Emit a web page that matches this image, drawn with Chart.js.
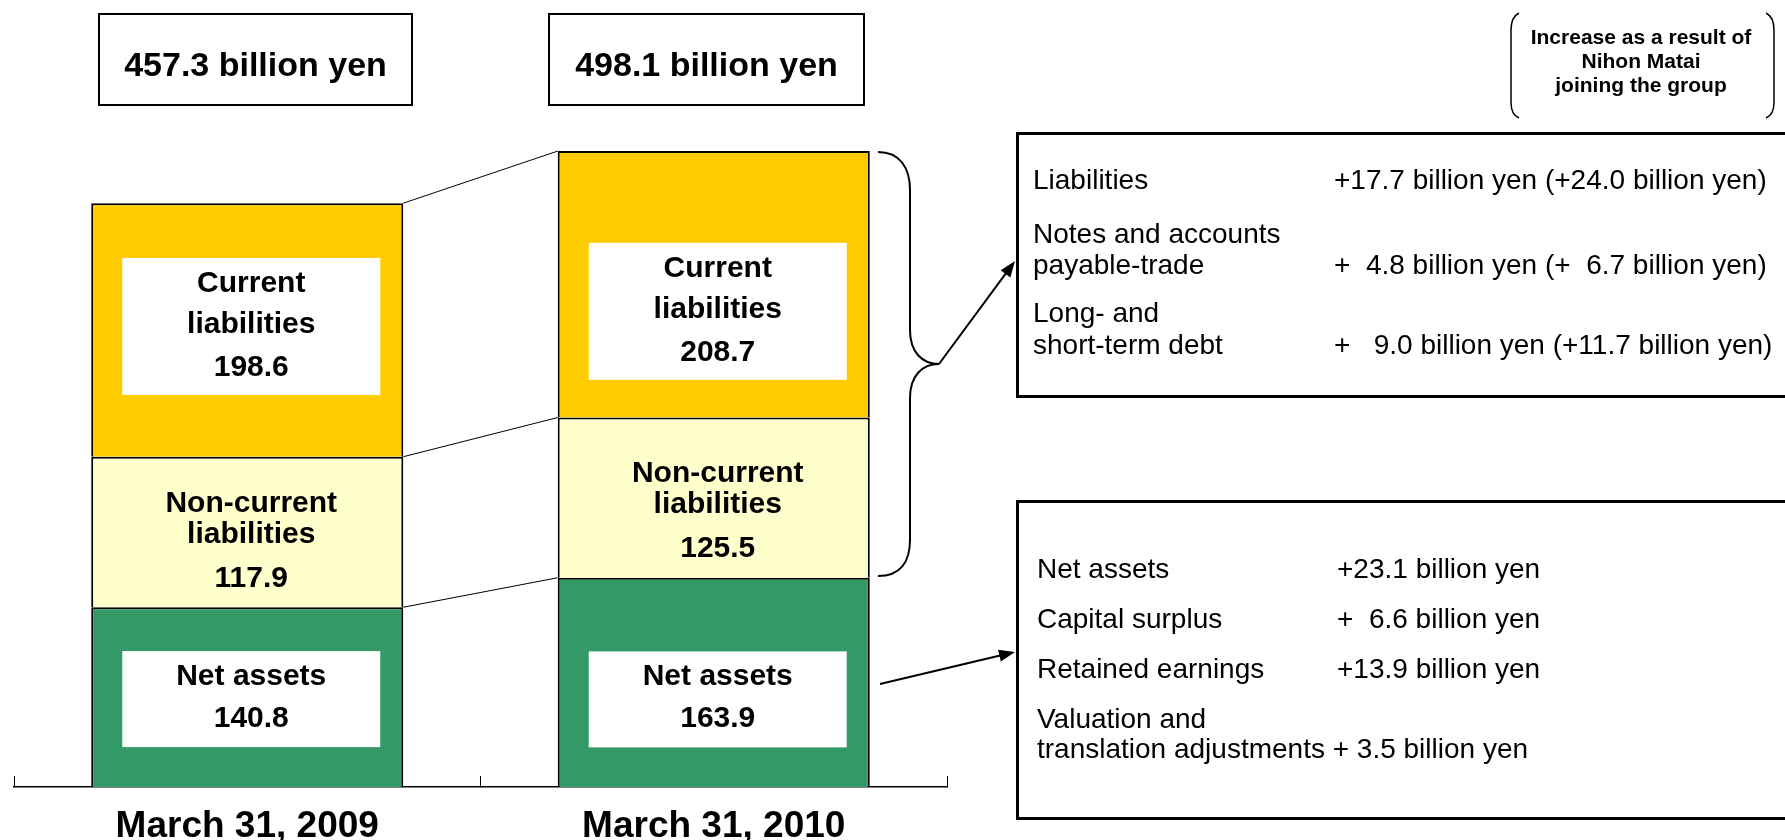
<!DOCTYPE html>
<html>
<head>
<meta charset="utf-8">
<script src="https://cdn.jsdelivr.net/npm/chart.js@4.4.1/dist/chart.umd.min.js"></script>
<style>
  html, body { margin: 0; padding: 0; background: #fff; }
</style>
</head>
<body>
<canvas id="chart" width="1785" height="840"></canvas>
<script>
// balance sheet, billion yen (stacked bottom -> top)
const dates = ['March 31, 2009', 'March 31, 2010'];
const netAssets = [140.8, 163.9];
const nonCurrentLiabilities = [117.9, 125.5];
const currentLiabilities = [198.6, 208.7];

const segmentNames = [['Net assets'], ['Non-current', 'liabilities'], ['Current', 'liabilities']];

const liabilityNotes = [
  ['Liabilities', '+17.7 billion yen (+24.0 billion yen)'],
  ['Notes and accounts', ''],
  ['payable-trade', '+  4.8 billion yen (+  6.7 billion yen)'],
  ['Long- and', ''],
  ['short-term debt', '+   9.0 billion yen (+11.7 billion yen)']
];
const netAssetNotes = [
  ['Net assets', '+23.1 billion yen'],
  ['Capital surplus', '+  6.6 billion yen'],
  ['Retained earnings', '+13.9 billion yen'],
  ['Valuation and', ''],
  ['translation adjustments + 3.5 billion yen', '']
];
const bracketNote = ['Increase as a result of', 'Nihon Matai', 'joining the group'];

const FONT = '"Liberation Sans", Arial, sans-serif';

// where the white label boxes and text rows sit inside each segment
const segmentStyle = [
  { box: 96, shift: [2, 17], rows: [-14, 28] },
  { box: 0, shift: [7.5, 11.5], rows: [-27.5, 3.5, 47.5] },
  { box: 137, shift: [-3.5, 27], rows: [-34, 7, 50] }
];

function arrow(ctx, x1, y1, x2, y2) {
  const a = Math.atan2(y2 - y1, x2 - x1);
  const c = Math.cos(a), s = Math.sin(a);
  ctx.beginPath();
  ctx.moveTo(x1, y1);
  ctx.lineTo(x2 - 12 * c, y2 - 12 * s);
  ctx.stroke();
  ctx.beginPath();
  ctx.moveTo(x2, y2);
  ctx.lineTo(x2 - 16 * c + 6 * s, y2 - 16 * s - 6 * c);
  ctx.lineTo(x2 - 16 * c - 6 * s, y2 - 16 * s + 6 * c);
  ctx.closePath();
  ctx.fill();
}

const annotations = {
  id: 'annotations',
  afterDatasetsDraw(chart) {
    const ctx = chart.ctx;
    ctx.save();
    ctx.strokeStyle = '#000';
    ctx.fillStyle = '#000';

    // connector lines between the two bars
    ctx.lineWidth = 1;
    chart.data.datasets.forEach((ds, i) => {
      const bars = chart.getDatasetMeta(i).data;
      const a = bars[0], b = bars[1];
      ctx.beginPath();
      ctx.moveTo(a.x + a.width / 2, a.y);
      ctx.lineTo(b.x - b.width / 2, b.y);
      ctx.stroke();
    });

    // segment labels
    ctx.textAlign = 'center';
    ctx.textBaseline = 'alphabetic';
    chart.data.datasets.forEach((ds, i) => {
      const st = segmentStyle[i];
      chart.getDatasetMeta(i).data.forEach((el, j) => {
        const mid = (el.y + el.base) / 2 + st.shift[j];
        const cx = el.x + 4;
        if (st.box) {
          ctx.fillStyle = '#fff';
          ctx.fillRect(cx - 129, mid - st.box / 2, 258, st.box);
        }
        ctx.fillStyle = '#000';
        ctx.font = 'bold 30px ' + FONT;
        const lines = segmentNames[i].concat([ds.data[j].toFixed(1)]);
        lines.forEach((t, k) => ctx.fillText(t, cx, mid + st.rows[k]));
      });
    });

    // totals in boxes above the bars
    const totals = dates.map((d, j) => netAssets[j] + nonCurrentLiabilities[j] + currentLiabilities[j]);
    const titleBoxes = [[99, 14, 313, 91], [549, 14, 315, 91]];
    ctx.lineWidth = 2;
    ctx.font = 'bold 34px ' + FONT;
    titleBoxes.forEach((r, j) => {
      ctx.strokeRect(r[0], r[1], r[2], r[3]);
      ctx.fillText(totals[j].toFixed(1) + ' billion yen', r[0] + r[2] / 2, 76);
    });

    // brace over the liabilities of 2010
    ctx.lineWidth = 2;
    ctx.beginPath();
    ctx.moveTo(878, 152);
    ctx.bezierCurveTo(900, 152, 910, 168, 910, 190);
    ctx.lineTo(910, 330);
    ctx.bezierCurveTo(910, 352, 922, 364, 939, 364);
    ctx.bezierCurveTo(922, 364, 910, 376, 910, 398);
    ctx.lineTo(910, 540);
    ctx.bezierCurveTo(910, 562, 900, 576, 878, 576);
    ctx.stroke();

    arrow(ctx, 939, 364, 1015, 261);
    arrow(ctx, 880, 684, 1015, 652);

    // right hand boxes
    ctx.lineWidth = 3;
    ctx.strokeRect(1017.5, 133.5, 800, 263);
    ctx.strokeRect(1017.5, 501.5, 800, 317);

    ctx.textAlign = 'left';
    ctx.font = '28px ' + FONT;
    const rows1 = [189, 243, 274, 322, 354];
    liabilityNotes.forEach((r, k) => {
      ctx.fillText(r[0], 1033, rows1[k]);
      if (r[1]) ctx.fillText(r[1], 1334, rows1[k]);
    });
    const rows2 = [578, 628, 678, 728, 758];
    netAssetNotes.forEach((r, k) => {
      ctx.fillText(r[0], 1037, rows2[k]);
      if (r[1]) ctx.fillText(r[1], 1337, rows2[k]);
    });

    // bracketed note, top right
    ctx.textAlign = 'center';
    ctx.font = 'bold 21px ' + FONT;
    bracketNote.forEach((t, k) => ctx.fillText(t, 1641, 44 + k * 24));
    ctx.lineWidth = 1.5;
    ctx.beginPath();
    ctx.moveTo(1519, 13);
    ctx.quadraticCurveTo(1511, 17, 1511, 30);
    ctx.lineTo(1511, 102);
    ctx.quadraticCurveTo(1511, 115, 1519, 118);
    ctx.moveTo(1766, 13);
    ctx.quadraticCurveTo(1774, 17, 1774, 30);
    ctx.lineTo(1774, 102);
    ctx.quadraticCurveTo(1774, 115, 1766, 118);
    ctx.stroke();

    ctx.restore();
  }
};

const data = {
  labels: dates,
  datasets: [
    { label: 'Net assets', data: netAssets, backgroundColor: '#339966' },
    { label: 'Non-current liabilities', data: nonCurrentLiabilities, backgroundColor: '#FFFFCC' },
    { label: 'Current liabilities', data: currentLiabilities, backgroundColor: '#FFCC00' }
  ]
};
data.datasets.forEach(ds => {
  ds.borderColor = '#000';
  ds.borderWidth = 2;
  ds.barPercentage = 0.669;
  ds.categoryPercentage = 1;
});

const config = {
  type: 'bar',
  data: data,
  options: {
    responsive: false,
    animation: false,
    devicePixelRatio: 1,
    layout: { padding: { left: 14, right: 838, top: 21, bottom: 0 } },
    plugins: { legend: { display: false }, tooltip: { enabled: false } },
    scales: {
      x: {
        stacked: true,
        grid: { display: true, offset: true, drawOnChartArea: false, drawTicks: true, tickLength: -11, color: '#000', lineWidth: 1 },
        border: { display: true, color: '#000', width: 1.5 },
        ticks: {
          color: '#000',
          padding: 32,
          maxRotation: 0,
          autoSkip: false,
          font: { family: FONT, size: 37, weight: 'bold', lineHeight: 1 }
        },
        afterFit(scale) { scale.height = 53; }
      },
      y: { stacked: true, display: false, min: 0, max: 600 }
    }
  },
  plugins: [annotations]
};

window.onload = () => {
  new Chart(document.getElementById('chart'), config);
};
</script>
</body>
</html>
